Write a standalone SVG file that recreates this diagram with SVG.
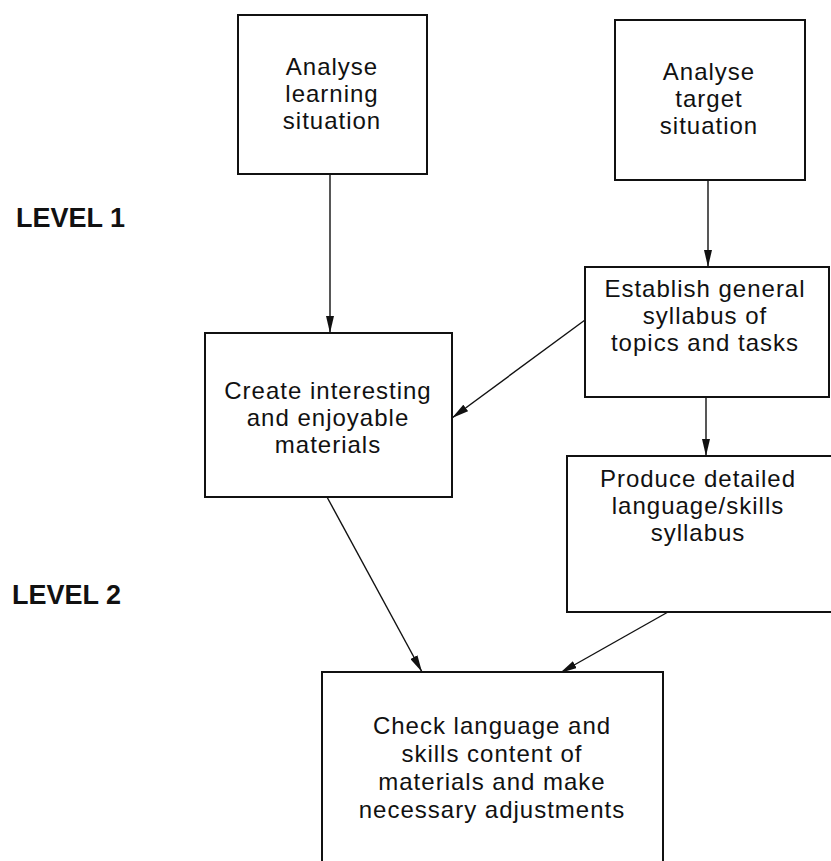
<svg xmlns="http://www.w3.org/2000/svg" width="831" height="861" viewBox="0 0 831 861">
  <style>
    .box { fill: #ffffff; stroke: #111111; stroke-width: 2; }
    .lbl { font-family: "Liberation Sans", Arial, sans-serif; font-size: 24px; letter-spacing: 1px; fill: #111111; text-anchor: middle; }
    .lvl { font-family: "Liberation Sans", Arial, sans-serif; font-size: 27px; font-weight: bold; fill: #111111; }
    .edge { fill: none; stroke: #111111; stroke-width: 1.4; marker-end: url(#head); }
  </style>
  <defs>
    <marker id="head" viewBox="0 0 17 8" refX="17" refY="4" markerWidth="17" markerHeight="8" markerUnits="userSpaceOnUse" orient="auto">
      <path d="M0,0 L17,4 L0,8 Z" fill="#111111"/>
    </marker>
  </defs>
  <rect width="831" height="861" fill="#ffffff"/>

  <text class="lvl" x="16" y="227">LEVEL 1</text>
  <text class="lvl" x="12" y="604">LEVEL 2</text>

  <g id="connectors">
    <line class="edge" x1="330" y1="174" x2="330" y2="333"/>
    <line class="edge" x1="708" y1="180" x2="708" y2="267"/>
    <line class="edge" x1="585" y1="320" x2="452" y2="418"/>
    <line class="edge" x1="706" y1="397" x2="706" y2="456"/>
    <line class="edge" x1="327" y1="497" x2="422" y2="672"/>
    <line class="edge" x1="668" y1="612" x2="560" y2="673"/>
  </g>

  <g id="analyse-learning">
    <rect class="box" x="238" y="15" width="189" height="159"/>
    <text class="lbl" x="332" y="75">Analyse</text>
    <text class="lbl" x="332" y="102">learning</text>
    <text class="lbl" x="332" y="129">situation</text>
  </g>

  <g id="analyse-target">
    <rect class="box" x="615" y="20" width="190" height="160"/>
    <text class="lbl" x="709" y="80">Analyse</text>
    <text class="lbl" x="709" y="107">target</text>
    <text class="lbl" x="709" y="134">situation</text>
  </g>

  <g id="create-materials">
    <rect class="box" x="205" y="333" width="247" height="164"/>
    <text class="lbl" x="328" y="399">Create interesting</text>
    <text class="lbl" x="328" y="426">and enjoyable</text>
    <text class="lbl" x="328" y="453">materials</text>
  </g>

  <g id="general-syllabus">
    <rect class="box" x="585" y="267" width="244" height="130"/>
    <text class="lbl" x="705" y="297">Establish general</text>
    <text class="lbl" x="705" y="324">syllabus of</text>
    <text class="lbl" x="705" y="351">topics and tasks</text>
  </g>

  <g id="detailed-syllabus">
    <rect class="box" x="567" y="456" width="290" height="156"/>
    <text class="lbl" x="698" y="487">Produce detailed</text>
    <text class="lbl" x="698" y="514">language/skills</text>
    <text class="lbl" x="698" y="541">syllabus</text>
  </g>

  <g id="check-adjust">
    <rect class="box" x="322" y="672" width="341" height="210"/>
    <text class="lbl" x="492" y="734">Check language and</text>
    <text class="lbl" x="492" y="762">skills content of</text>
    <text class="lbl" x="492" y="790">materials and make</text>
    <text class="lbl" x="492" y="818">necessary adjustments</text>
  </g>
</svg>
